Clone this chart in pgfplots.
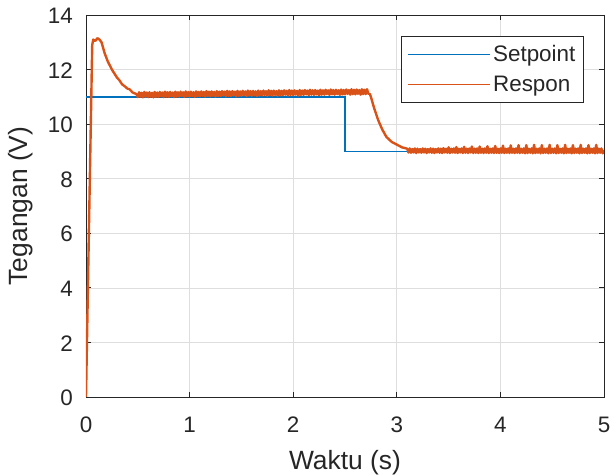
\documentclass[border=0pt]{standalone}
\usepackage{pgfplots}
\pgfplotsset{compat=1.18}
\usepackage{fontspec}
\setmainfont{Liberation Sans}
\definecolor{mblue}{rgb}{0,0.447,0.741}
\definecolor{morange}{rgb}{0.85,0.325,0.098}
\definecolor{axgray}{rgb}{0.15,0.15,0.15}
\begin{document}
\begin{tikzpicture}[x=1bp,y=1bp]
\useasboundingbox (-86,-78) rectangle (528,397);
\begin{axis}[
  at={(0,0)}, anchor=south west,
  scale only axis, width=518bp, height=382bp,
  xmin=0, xmax=5, ymin=0, ymax=14,
  xtick={0,1,2,3,4,5}, ytick={0,2,4,6,8,10,12,14},
  xtick pos=both, ytick pos=both, tick align=inside,
  major tick length=5bp,
  grid=major,
  grid style={color=black!13, line width=0.7bp},
  axis line style={axgray, line width=0.9bp},
  tick style={axgray, line width=0.9bp},
  /pgf/number format/assume math mode=true,
  tick label style={font=\fontsize{22.5}{27}\selectfont, text=axgray, inner sep=0pt},
  xticklabel style={anchor=base, yshift=-36bp},
  yticklabel style={anchor=east, xshift=-13bp, yshift=-1bp},
  label style={font=\fontsize{26.5}{31}\selectfont, text=axgray, inner sep=0pt},
  xlabel={Waktu (s)}, ylabel={Tegangan (V)},
  xlabel style={at={(rel axis cs:0.5,-0.1911)}, anchor=base},
  ylabel style={at={(rel axis cs:-0.112,0.5)}, anchor=base, rotate=0},
  legend cell align=left,
  legend style={at={(rel axis cs:0.961,0.945)}, anchor=north east,
    draw=axgray, line width=0.9bp, font=\fontsize{22.5}{27}\selectfont,
    row sep=9bp, inner xsep=6bp, inner ysep=7bp},
  legend image code/.code={\draw[#1, line width=1.5bp] (0bp,0bp) -- (82bp,0bp);},
]
\addplot[mblue, line width=1.5bp] coordinates {(0,11) (2.5,11) (2.5,9) (5,9)};
\addlegendentry{\textcolor{axgray}{Setpoint}}
\addplot[morange, line width=2.4bp, line join=round] table {
0.000 0.00
0.030 6.50
0.060 12.90
0.070 13.10
0.090 13.05
0.110 13.15
0.130 13.10
0.150 13.00
0.180 12.60
0.210 12.30
0.250 12.00
0.300 11.70
0.320 11.62
0.350 11.45
0.370 11.40
0.400 11.30
0.420 11.28
0.450 11.16
0.4875 11.10
0.5000 10.99
0.5125 11.17
0.5250 11.01
0.5375 11.15
0.5500 10.98
0.5625 11.18
0.5750 11.00
0.5875 11.16
0.6000 10.99
0.6125 11.17
0.6250 11.01
0.6375 11.15
0.6500 10.98
0.6625 11.18
0.6750 11.00
0.6875 11.16
0.7000 11.00
0.7125 11.18
0.7250 11.02
0.7375 11.16
0.7500 10.99
0.7625 11.19
0.7750 11.01
0.7875 11.17
0.8000 11.00
0.8125 11.18
0.8250 11.02
0.8375 11.16
0.8500 10.99
0.8625 11.19
0.8750 11.01
0.8875 11.17
0.9000 11.01
0.9125 11.19
0.9250 11.03
0.9375 11.17
0.9500 11.00
0.9625 11.20
0.9750 11.02
0.9875 11.18
1.0000 11.01
1.0125 11.19
1.0250 11.03
1.0375 11.17
1.0500 11.00
1.0625 11.20
1.0750 11.02
1.0875 11.18
1.1000 11.02
1.1125 11.20
1.1250 11.04
1.1375 11.18
1.1500 11.01
1.1625 11.21
1.1750 11.03
1.1875 11.19
1.2000 11.02
1.2125 11.20
1.2250 11.04
1.2375 11.18
1.2500 11.01
1.2625 11.21
1.2750 11.03
1.2875 11.19
1.3000 11.03
1.3125 11.21
1.3250 11.05
1.3375 11.19
1.3500 11.02
1.3625 11.22
1.3750 11.04
1.3875 11.20
1.4000 11.03
1.4125 11.21
1.4250 11.05
1.4375 11.19
1.4500 11.02
1.4625 11.22
1.4750 11.04
1.4875 11.20
1.5000 11.04
1.5125 11.22
1.5250 11.06
1.5375 11.20
1.5500 11.03
1.5625 11.23
1.5750 11.05
1.5875 11.21
1.6000 11.04
1.6125 11.22
1.6250 11.06
1.6375 11.20
1.6500 11.03
1.6625 11.23
1.6750 11.05
1.6875 11.21
1.7000 11.05
1.7125 11.23
1.7250 11.07
1.7375 11.21
1.7500 11.04
1.7625 11.24
1.7750 11.06
1.7875 11.22
1.8000 11.05
1.8125 11.23
1.8250 11.07
1.8375 11.21
1.8500 11.04
1.8625 11.24
1.8750 11.06
1.8875 11.22
1.9000 11.06
1.9125 11.24
1.9250 11.08
1.9375 11.22
1.9500 11.05
1.9625 11.25
1.9750 11.07
1.9875 11.23
2.0000 11.06
2.0125 11.24
2.0250 11.08
2.0375 11.22
2.0500 11.05
2.0625 11.25
2.0750 11.07
2.0875 11.23
2.1000 11.07
2.1125 11.25
2.1250 11.09
2.1375 11.23
2.1500 11.06
2.1625 11.26
2.1750 11.08
2.1875 11.24
2.2000 11.07
2.2125 11.25
2.2250 11.09
2.2375 11.23
2.2500 11.06
2.2625 11.26
2.2750 11.08
2.2875 11.24
2.3000 11.08
2.3125 11.26
2.3250 11.10
2.3375 11.24
2.3500 11.07
2.3625 11.27
2.3750 11.09
2.3875 11.25
2.4000 11.08
2.4125 11.26
2.4250 11.10
2.4375 11.24
2.4500 11.07
2.4625 11.27
2.4750 11.09
2.4875 11.25
2.5000 11.09
2.5125 11.27
2.5250 11.11
2.5375 11.25
2.5500 11.08
2.5625 11.28
2.5750 11.10
2.5875 11.26
2.6000 11.09
2.6125 11.27
2.6250 11.11
2.6375 11.25
2.6500 11.08
2.6625 11.28
2.6750 11.10
2.6875 11.26
2.7000 11.10
2.7125 11.28
2.7250 11.12
2.7400 11.10
2.7500 11.00
2.7800 10.60
2.8200 10.15
2.8600 9.80
2.9000 9.53
2.9500 9.35
3.0000 9.25
3.0500 9.15
3.1000 9.10
3.1125 8.96
3.1250 9.11
3.1375 8.95
3.1500 9.09
3.1625 8.96
3.1750 9.11
3.1875 8.94
3.2000 9.10
3.2125 8.96
3.2250 9.09
3.2375 8.95
3.2500 9.11
3.2625 8.96
3.2750 9.10
3.2875 8.94
3.3000 9.09
3.3125 8.96
3.3250 9.11
3.3375 8.95
3.3500 9.10
3.3625 8.94
3.3750 9.09
3.3875 8.96
3.4000 9.11
3.4125 8.95
3.4250 9.10
3.4375 8.94
3.4500 9.12
3.4625 8.96
3.4750 9.10
3.4875 8.95
3.5000 9.15
3.5125 8.94
3.5250 9.10
3.5375 8.96
3.5500 9.11
3.5625 8.95
3.5750 9.16
3.5875 8.94
3.6000 9.10
3.6125 8.96
3.6250 9.11
3.6375 8.94
3.6500 9.17
3.6625 8.95
3.6750 9.10
3.6875 8.94
3.7000 9.11
3.7125 8.96
3.7250 9.18
3.7375 8.94
3.7500 9.10
3.7625 8.95
3.7750 9.11
3.7875 8.94
3.8000 9.18
3.8125 8.95
3.8250 9.10
3.8375 8.94
3.8500 9.11
3.8625 8.95
3.8750 9.19
3.8875 8.94
3.9000 9.10
3.9125 8.95
3.9250 9.11
3.9375 8.94
3.9500 9.20
3.9625 8.95
3.9750 9.10
3.9875 8.94
4.0000 9.11
4.0125 8.95
4.0250 9.21
4.0375 8.94
4.0500 9.10
4.0625 8.95
4.0750 9.11
4.0875 8.94
4.1000 9.22
4.1125 8.95
4.1250 9.10
4.1375 8.94
4.1500 9.11
4.1625 8.95
4.1750 9.23
4.1875 8.94
4.2000 9.10
4.2125 8.95
4.2250 9.11
4.2375 8.93
4.2500 9.23
4.2625 8.94
4.2750 9.10
4.2875 8.95
4.3000 9.11
4.3125 8.93
4.3250 9.24
4.3375 8.94
4.3500 9.10
4.3625 8.95
4.3750 9.11
4.3875 8.93
4.4000 9.23
4.4125 8.94
4.4250 9.10
4.4375 8.95
4.4500 9.11
4.4625 8.93
4.4750 9.24
4.4875 8.94
4.5000 9.10
4.5125 8.95
4.5250 9.11
4.5375 8.93
4.5500 9.23
4.5625 8.94
4.5750 9.10
4.5875 8.95
4.6000 9.11
4.6125 8.93
4.6250 9.24
4.6375 8.94
4.6500 9.10
4.6625 8.95
4.6750 9.11
4.6875 8.93
4.7000 9.23
4.7125 8.94
4.7250 9.10
4.7375 8.95
4.7500 9.11
4.7625 8.93
4.7750 9.24
4.7875 8.94
4.8000 9.10
4.8125 8.95
4.8250 9.11
4.8375 8.93
4.8500 9.23
4.8625 8.94
4.8750 9.10
4.8875 8.95
4.9000 9.11
4.9125 8.93
4.9250 9.24
4.9375 8.94
4.9500 9.10
4.9625 8.95
4.9750 9.11
4.9875 8.93
5.0000 9.05
};
\addlegendentry{\textcolor{axgray}{Respon}}
\end{axis}
\end{tikzpicture}
\end{document}
